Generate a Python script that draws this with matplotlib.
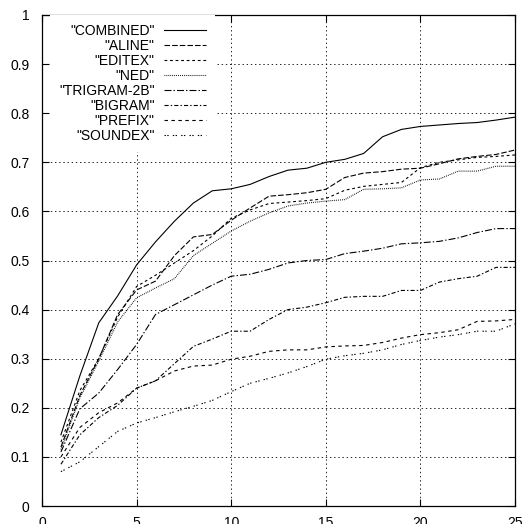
import matplotlib
matplotlib.use('Agg')
import matplotlib.pyplot as plt

plt.rcParams['font.family'] = ['Liberation Sans', 'DejaVu Sans']
plt.rcParams['lines.scale_dashes'] = False

# data
x = [1, 2, 3, 4, 5, 6, 7, 8, 9, 10, 11, 12, 13, 14, 15, 16, 17, 18, 19, 20, 21, 22, 23, 24, 25]
combined = [0.145, 0.265, 0.373, 0.428, 0.491, 0.538, 0.580, 0.617, 0.642, 0.646, 0.655, 0.671, 0.684,
            0.688, 0.700, 0.706, 0.718, 0.752, 0.767, 0.773, 0.776, 0.779, 0.781, 0.786, 0.792]
aline = [0.12, 0.225, 0.30, 0.39, 0.44, 0.458, 0.51, 0.548, 0.553, 0.582, 0.607, 0.631, 0.634,
         0.638, 0.645, 0.669, 0.678, 0.681, 0.686, 0.688, 0.697, 0.707, 0.712, 0.716, 0.725]
editex = [0.13, 0.235, 0.30, 0.385, 0.447, 0.47, 0.495, 0.52, 0.55, 0.586, 0.603, 0.616, 0.619,
          0.622, 0.626, 0.643, 0.651, 0.655, 0.659, 0.689, 0.700, 0.705, 0.710, 0.712, 0.715]
ned = [0.115, 0.22, 0.295, 0.375, 0.424, 0.444, 0.463, 0.51, 0.535, 0.56, 0.58, 0.597, 0.611,
       0.617, 0.621, 0.624, 0.645, 0.646, 0.648, 0.664, 0.666, 0.682, 0.682, 0.692, 0.692]
trigram = [0.11, 0.198, 0.23, 0.278, 0.329, 0.39, 0.41, 0.43, 0.45, 0.468, 0.472, 0.482, 0.495,
           0.50, 0.502, 0.514, 0.519, 0.525, 0.534, 0.536, 0.539, 0.546, 0.557, 0.565, 0.565]
bigram = [0.085, 0.145, 0.18, 0.205, 0.24, 0.255, 0.29, 0.325, 0.34, 0.356, 0.356, 0.38, 0.40,
          0.405, 0.414, 0.425, 0.427, 0.427, 0.439, 0.439, 0.456, 0.463, 0.468, 0.486, 0.486]
prefix = [0.10, 0.16, 0.19, 0.21, 0.24, 0.255, 0.275, 0.285, 0.287, 0.299, 0.305, 0.315, 0.318,
          0.318, 0.324, 0.326, 0.327, 0.333, 0.342, 0.349, 0.353, 0.359, 0.376, 0.377, 0.38]
soundex = [0.07, 0.09, 0.121, 0.152, 0.169, 0.18, 0.192, 0.203, 0.215, 0.233, 0.25, 0.26, 0.271,
           0.284, 0.299, 0.306, 0.311, 0.318, 0.329, 0.337, 0.344, 0.349, 0.356, 0.356, 0.371]

labels = ['"COMBINED"', '"ALINE"', '"EDITEX"', '"NED"', '"TRIGRAM-2B"', '"BIGRAM"', '"PREFIX"', '"SOUNDEX"']
series = [combined, aline, editex, ned, trigram, bigram, prefix, soundex]
styles = ['-', (0, (4, 1.5)), (0, (2, 2)), (0, (0.6, 0.8)), (0, (5, 1.5, 1, 1.5)),
          (0, (3, 1.5, 1, 1.5)), (0, (2.5, 2.5)), (0, (1, 1, 1, 3))]

fig = plt.figure(figsize=(5.27, 5.24), dpi=100)
ax = fig.add_axes([42 / 527, 1 - 506 / 524, 473 / 527, 491 / 524])

for ys, lab, ls in zip(series, labels, styles):
    ax.plot(x, ys, color='black', linestyle=ls, linewidth=0.8, label=lab)

ax.set_xlim(0, 25)
ax.set_ylim(0, 1)
ax.set_xticks([0, 5, 10, 15, 20, 25])
ax.set_yticks([0, 0.1, 0.2, 0.3, 0.4, 0.5, 0.6, 0.7, 0.8, 0.9, 1])
ax.set_yticklabels(['0', '0.1', '0.2', '0.3', '0.4', '0.5', '0.6', '0.7', '0.8', '0.9', '1'])
ax.grid(True, color='black', linestyle=(0, (1, 2)), linewidth=0.6)
ax.tick_params(direction='in', length=5, width=0.8, top=True, right=True, labelsize=10)
ax.tick_params(axis='y', pad=9)
ax.tick_params(axis='x', pad=7)
for sp in ax.spines.values():
    sp.set_linewidth(0.9)

leg = ax.legend(loc='upper right', bbox_to_anchor=(0.366, 1.0), borderaxespad=0,
                markerfirst=False, frameon=True, fancybox=False, framealpha=1,
                edgecolor='none', facecolor='white', fontsize=10, handlelength=3.0,
                handletextpad=0.7, labelspacing=0.07, borderpad=0.65)
leg.get_frame().set_linewidth(0)

fig.savefig('out.png', dpi=100)
